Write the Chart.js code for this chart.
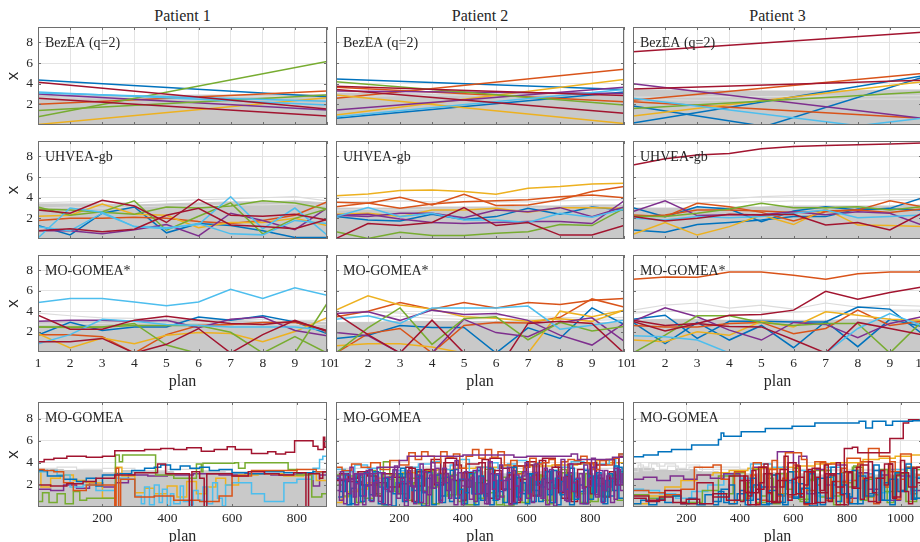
<!DOCTYPE html>
<html>
<head>
<meta charset="utf-8">
<script src="https://cdn.jsdelivr.net/npm/chart.js@4/dist/chart.umd.min.js"></script>
<style>
  html, body { margin: 0; padding: 0; background: #fff; overflow: hidden; }
  #fig { position: relative; width: 920px; height: 542px; overflow: hidden; background: #fff; }
  #fig canvas { position: absolute; }
  .colTitle { position: absolute; top: 7px; font-family: "Liberation Serif", serif; font-size: 16px;
              color: #262626; transform: translateX(-50%); white-space: nowrap; }
</style>
</head>
<body>
<div id="fig"></div>
<script>
// ---- categories, ticks and labels ----
const patients = ['Patient 1', 'Patient 2', 'Patient 3'];
const methods = ['BezEA (q=2)', 'UHVEA-gb', 'MO-GOMEA*', 'MO-GOMEA'];
const plans = [1, 2, 3, 4, 5, 6, 7, 8, 9, 10];
const planEnds = [1, 10];
const yTicks = [2, 4, 6, 8];
const planTicks = [1, 2, 3, 4, 5, 6, 7, 8, 9, 10];
const longTicks = [200, 400, 600, 800];
const longTicks3 = [200, 400, 600, 800, 1000];
const planCount = [893, 906, 1080];

// ---- BezEA (q=2): straight fronts, value at plan 1 and plan 10 ----
const bez1 = [[4.37, 2.75], [2.0, 3.3], [0.05, 2.65], [3.0, 1.45], [0.8, 6.15], [1.4, 2.9],
              [3.2, 1.95], [3.1, 2.3], [4.15, 1.55], [2.6, 0.87]];
const bez1Hue = [0, 1, 2, 3, 4, 4, 5, 5, 6, 6];
const bez1Band = [2.9, 2.9, 2.85, 2.85, 2.85, 2.9, 2.9, 2.9, 2.95, 2.95];
const bez1Haze = [[2.6, 2.62, 2.65, 2.68, 2.7, 2.72, 2.75, 2.78, 2.8, 2.8]];

const bez2 = [[4.47, 3.45], [0.65, 3.2], [2.6, 5.4], [3.65, 2.25], [0.97, 4.4], [2.9, 0.15],
              [1.45, 3.65], [3.3, 3.05], [4.2, 1.95], [0.8, 3.45], [3.45, 1.13], [3.75, 2.85]];
const bez2Hue = [0, 0, 1, 1, 2, 2, 3, 3, 4, 5, 6, 6];
const bez2Band = [3.1, 3.1, 3.05, 3.0, 3.0, 3.0, 3.0, 3.05, 3.1, 3.1];
const bez2Haze = [[2.8, 2.8, 2.85, 2.9, 2.9, 2.9, 2.95, 2.95, 3.0, 3.0]];

const bez3 = [[0.2, 4.75], [1.85, -2.5], [-4.1, 4.6], [2.4, 5.0], [2.25, 0.65], [0.87, 4.2],
              [4.0, 0.65], [1.6, 3.2], [2.6, -0.82], [-2.6, 0.65], [3.5, 4.35], [7.1, 9.0]];
const bez3Hue = [0, 0, 0, 1, 1, 2, 3, 4, 5, 5, 6, 6];
const bez3Band = [3.4, 3.4, 3.35, 3.3, 3.3, 3.3, 3.3, 3.35, 3.4, 3.4];
const bez3Haze = [[2.7, 2.7, 2.72, 2.75, 2.75, 2.78, 2.8, 2.8, 2.82, 2.85],
                  [2.45, 2.45, 2.4, 2.4, 2.42, 2.45, 2.45, 2.5, 2.5, 2.5]];

// ---- UHVEA-gb: one value per plan ----
const uhv1 = [[1.3, 0.4, 2.5, 3.1, 0.6, 1.5, 1.3, 0.8, 0.15, 0.15],
              [1.8, 2.0, 2.0, 2.1, 2.0, 1.7, 1.5, 1.8, 2.3, 3.6],
              [2.2, 2.3, 3.4, 2.4, 2.3, 1.1, 1.6, 1.6, 2.0, 1.3],
              [0.8, 0.8, 0.5, 0.9, 1.4, 0.3, 2.5, 1.8, 0.9, 3.0],
              [3.1, 2.3, 2.65, 3.7, 0.85, 2.2, 3.5, 0.5, 2.0, 2.9],
              [2.9, 2.8, 2.6, 2.4, 3.1, 3.0, 3.2, 3.7, 3.5, 2.9],
              [0.1, 3.0, 2.6, 1.2, 1.1, 1.4, 4.1, 1.0, 3.0, 0.4],
              [1.2, 0.8, 2.5, 1.2, 1.0, 1.5, 0.5, 0.4, 1.8, 1.5],
              [2.8, 2.5, 3.75, 3.2, 1.6, 3.85, 2.3, 2.2, 2.4, 1.85],
              [0.8, 1.0, 0.7, 0.95, 2.3, 2.97, 1.36, 1.2, 1.0, 1.9]];
const uhv1Hue = [0, 1, 2, 3, 4, 4, 5, 5, 6, 6];
const uhv1Band = [3.4, 3.4, 3.4, 3.3, 3.4, 3.5, 3.6, 3.6, 3.7, 3.5];
const uhv1Haze = [[3.5, 3.6, 3.6, 3.5, 3.7, 3.8, 3.9, 4.0, 4.1, 3.7],
                  [3.0, 3.1, 3.0, 3.1, 3.2, 3.2, 3.3, 3.3, 3.4, 3.2]];

const uhv2 = [[2.17, 1.85, 1.75, 2.4, 1.9, 2.17, 2.97, 2.4, 3.1, 2.8],
              [3.56, 3.46, 4.05, 3.3, 4.33, 3.24, 3.3, 3.8, 4.6, 5.1],
              [3.13, 3.5, 2.97, 3.4, 3.62, 3.7, 3.8, 4.1, 4.27, 4.0],
              [4.2, 4.36, 4.7, 4.76, 4.6, 4.33, 4.92, 5.08, 5.34, 5.4],
              [2.4, 2.5, 2.17, 2.8, 2.8, 2.97, 2.6, 3.04, 3.04, 2.97],
              [2.27, 2.4, 1.94, 1.6, 1.5, 1.6, 1.7, 1.7, 1.5, 3.7],
              [2.3, 2.17, 2.5, 2.5, 2.07, 2.8, 2.65, 3.04, 2.17, 3.1],
              [0.7, 0.05, 0.65, 0.33, 0.33, 0.55, 0.7, 1.4, 1.3, 2.97],
              [2.17, 3.04, 2.17, 2.5, 1.85, 1.85, 1.6, 2.5, 2.1, 2.9],
              [0.05, 1.5, 1.3, 1.6, 3.04, 1.3, 1.6, 0.38, 0.38, 1.3]];
const uhv2Hue = [0, 1, 1, 2, 2, 3, 3, 4, 5, 6];
const uhv2Band = [3.0, 3.0, 3.0, 3.1, 3.1, 3.1, 3.2, 3.2, 3.3, 3.3];
const uhv2Haze = [[3.6, 3.6, 3.7, 3.6, 3.6, 3.6, 3.6, 3.7, 3.8, 3.8],
                  [2.8, 2.9, 2.8, 2.9, 2.9, 3.0, 3.0, 3.0, 3.1, 3.1]];

const uhv3 = [[3.04, 2.17, 3.13, 2.9, 1.68, 2.72, 3.13, 2.8, 2.97, 3.98],
              [0.87, 0.65, 1.4, 1.6, 1.85, 2.17, 2.17, 2.9, 2.9, 2.8],
              [2.33, 2.17, 3.46, 3.13, 2.58, 1.75, 2.65, 2.8, 3.7, 3.13],
              [2.17, 2.33, 2.8, 2.8, 2.72, 2.58, 2.72, 2.8, 2.58, 2.9],
              [0.45, 1.6, 0.38, 1.2, 2.33, 1.4, 2.9, 1.35, 1.3, 1.2],
              [2.65, 3.7, 2.27, 2.35, 2.35, 2.65, 2.35, 2.65, 2.5, 1.35],
              [2.2, 2.17, 2.5, 2.9, 3.46, 3.04, 3.04, 3.13, 2.8, 3.13],
              [2.0, 1.85, 2.17, 2.07, 2.17, 2.5, 2.8, 2.07, 2.17, 2.33],
              [7.18, 7.77, 8.15, 8.3, 8.74, 8.96, 9.06, 9.13, 9.2, 9.3],
              [2.17, 1.75, 2.0, 2.4, 2.33, 2.4, 1.35, 1.6, 0.87, 2.5]];
const uhv3Hue = [0, 0, 1, 1, 2, 3, 4, 5, 6, 6];
const uhv3Band = [3.0, 3.0, 3.0, 3.1, 3.1, 3.2, 3.2, 3.2, 3.2, 3.3];
const uhv3Haze = [[3.7, 3.8, 3.9, 3.9, 4.1, 4.2, 4.2, 4.2, 4.3, 4.3],
                  [3.4, 3.5, 3.5, 3.6, 3.6, 3.7, 3.7, 3.7, 3.8, 3.8]];

// ---- MO-GOMEA*: one value per plan (null = no solution drawn) ----
const mgs1 = [[1.65, 2.9, 2.1, 2.46, 2.46, 3.43, 3.1, 3.54, 2.95, 1.8],
              [1.7, 1.7, 1.5, -0.1, 1.7, 2.6, 2.7, 2.9, 2.9, 2.1],
              [1.8, 0.4, 1.37, 0.8, 1.65, 1.9, 1.8, 1.0, 2.0, 3.37],
              [3.0, 3.1, 3.1, 3.0, 3.1, 2.37, 3.2, 3.43, 2.1, 1.6],
              [2.46, 2.4, 2.46, 2.8, 0.68, -0.15, null, null, null, null],
              [2.46, 2.46, 2.46, 2.6, 2.6, 2.6, 1.93, -0.1, 1.5, -0.1],
              [null, null, null, null, null, null, null, null, -0.1, 4.75],
              [4.85, 5.24, 5.24, 4.9, 4.52, 4.9, 6.15, 5.24, 6.3, 5.56],
              [0.8, 1.7, 3.2, 3.0, 2.7, 2.6, 2.46, 2.46, 2.46, 2.1],
              [3.6, 2.24, 2.24, 3.12, 3.5, 3.12, 2.8, 2.7, 3.0, 2.1],
              [1.0, 1.0, 1.33, -0.1, 0.75, 2.3, -0.1, 1.7, 3.1, 2.0]];
const mgs1Hue = [0, 1, 2, 3, 4, 4, 4, 5, 5, 6, 6];
const mgs1Band = [3.0, 3.0, 3.0, 3.1, 3.1, 3.1, 3.1, 3.0, 3.0, 2.9];
const mgs1Haze = [[3.8, 3.55, 3.35, 3.3, 3.2, 3.2, 3.2, 3.2, 3.1, 3.1],
                  [2.7, 2.8, 2.8, 2.9, 2.8, 2.9, 2.8, 2.8, 2.7, 2.7]];

const mgs2 = [[1.33, 1.65, 2.6, 2.4, 2.4, -0.1, 2.37, 1.33, 4.32, 2.7],
              [3.45, 4.0, 4.84, 4.2, 4.84, 4.32, 4.84, 4.65, 5.07, 5.23],
              [-0.1, 1.8, 2.3, -0.1, 2.6, 2.9, 2.85, 3.4, 5.2, 4.4],
              [4.1, 5.5, 4.6, 4.2, 3.45, 3.3, 3.0, 3.25, 3.0, 4.1],
              [0.6, 0.8, 0.8, 0.5, -0.1, null, null, null, null, null],
              [null, null, null, null, null, null, -0.1, 4.0, 3.45, 4.1],
              [3.77, 3.93, 3.1, 4.1, 3.67, 3.77, 3.1, 1.65, 0.68, 2.8],
              [1.9, 1.6, -0.1, -0.1, 3.2, 1.9, 1.5, 2.9, 3.35, 1.07],
              [-0.1, 2.37, 4.32, 0.75, 3.27, 3.45, 1.2, 2.9, 2.05, 2.5],
              [3.2, 3.54, 2.8, 4.32, 4.32, 4.32, 4.5, 2.24, 2.63, 3.1],
              [3.77, 1.7, -0.1, 3.12, -0.1, null, null, null, null, null],
              [null, null, null, null, null, -2.0, 2.8, 3.0, 2.8, -0.1]];
const mgs2Hue = [0, 1, 1, 2, 2, 2, 3, 3, 4, 5, 6, 6];
const mgs2Band = [2.9, 2.9, 3.0, 3.0, 3.0, 3.0, 3.0, 2.9, 2.9, 2.9];
const mgs2Haze = [[3.9, 4.0, 3.8, 3.6, 3.5, 3.6, 3.5, 3.4, 3.3, 3.4],
                  [3.4, 3.5, 3.5, 3.3, 3.2, 3.3, 3.2, 3.2, 3.1, 3.2]];

const mgs3 = [[3.2, 3.6, 1.33, 3.0, 3.0, 2.95, 2.95, 4.4, 4.2, 1.8],
              [2.9, 0.83, 2.9, 1.17, 2.6, 0.42, 3.0, 0.52, 3.2, 2.5],
              [7.12, 7.35, 7.32, 7.83, 7.83, 7.51, 7.12, 7.67, 7.83, 7.83],
              [2.6, 2.46, 2.46, 2.8, 2.9, 1.8, 2.3, 4.1, 2.6, 3.0],
              [1.17, 1.0, 1.98, 1.65, 3.0, 2.46, 3.93, 3.6, 3.2, 3.1],
              [3.0, 4.32, 3.45, 2.14, 1.17, 2.9, 2.7, 1.4, 2.8, 3.45],
              [-0.1, 1.65, 3.54, 3.54, 2.9, 2.6, 2.8, 2.8, -0.1, 3.0],
              [1.6, 1.5, 1.17, -0.1, null, null, null, null, null, null],
              [null, null, null, null, null, null, -0.1, 2.3, 3.77, 2.6],
              [3.0, 2.05, 2.8, 3.6, 3.67, 4.1, 5.95, 5.17, 5.83, 6.37],
              [3.1, 2.6, 2.8, 2.5, 2.46, 1.2, -0.1, 2.9, 2.3, 1.7]];
const mgs3Hue = [0, 0, 1, 1, 2, 3, 4, 5, 5, 6, 6];
const mgs3Band = [3.1, 3.2, 3.2, 3.1, 3.2, 3.1, 3.1, 3.2, 3.1, 3.1];
const mgs3Haze = [[4.1, 4.6, 4.8, 4.3, 4.6, 4.2, 4.8, 4.4, 4.6, 4.5],
                  [3.8, 4.0, 4.0, 4.0, 3.9, 3.9, 4.0, 4.0, 4.1, 4.1]];

// ---- MO-GOMEA: [plan, value] change points, value held until the next plan ----
const mg1 = [
  [[1,1.6],[40,1.5],[80,2.0],[120,1.7],[160,2.2],[200,1.8],[240,2.2],[280,2.9],[340,2.8],[400,2.9],[480,3.0],[560,2.9],[640,3.0],[720,2.9],[800,3.0],[850,1.9],[870,2.9],[893,2.8]],
  [[1,3.2],[10,1.8],[40,2.6],[70,2.9],[110,2.4],[150,2.2],[200,0.8],[240,3.6],[260,2.8],[300,1.3],[330,1.7],[360,1.2],[400,1.9],[430,0.9],[460,2.3],[490,1.2],[520,1.8],[550,2.6],[580,2.0],[620,2.9],[680,3.0],[760,2.8],[820,3.0],[860,2.4],[893,2.7]],
  [[1,3.2],[30,3.3],[60,2.9],[100,1.8],[140,2.0],[180,1.5],[240,2.6],[280,2.5],[300,1.0],[320,0.3],[330,1.8],[345,0.2],[360,2.0],[375,0.4],[385,1.6],[400,0.1],[410,1.2],[420,0.3],[440,1.9],[450,0.5],[470,0.2],[480,1.5],[495,0.6],[510,1.8],[525,0.3],[540,2.2],[555,0.8],[570,0.1],[580,2.0],[600,2.2],[660,1.2],[700,0.5],[760,2.2],[800,2.5],[850,3.5],[870,4.3],[880,4.6],[893,4.5]],
  [[1,0.5],[15,1.3],[35,0.4],[60,1.2],[85,0.3],[110,1.4],[130,0.6],[151,0.8],[240,4.7],[252,4.1],[262,4.7],[364,2.9],[420,2.6],[490,3.9],[505,3.2],[510,3.95],[608,4.0],[620,3.5],[640,4.0],[773,3.4],[800,2.9],[846,0.9],[877,1.2],[893,1.0]],
  [[1,3.3],[30,2.8],[80,2.5],[120,2.3],[150,2.6],[180,1.9],[200,2.9],[240,3.0],[290,3.3],[330,3.5],[360,3.6],[380,3.8],[410,3.4],[440,3.7],[470,3.5],[500,3.6],[530,3.3],[560,3.4],[600,3.1],[650,3.0],[700,3.2],[760,3.1],[850,3.2],[893,3.3]],
  [[1,3.4],[20,3.3],[50,3.2],[80,2.2],[110,1.5],[150,2.0],[238,0],[242,3.5],[250,0],[256,2.5],[300,0.9],[330,0.9],[360,1.0],[420,0.6],[500,0.5],[560,1.0],[600,2.8],[660,3.3],[700,3.3],[760,3.3],[800,3.4],[860,3.2],[893,3.2]],
  [[1,2.0],[40,1.9],[90,2.1],[140,2.3],[180,2.6],[238,2.9],[300,3.1],[370,3.9],[395,3.0],[460,3.0],[468,0],[476,3.2],[500,2.6],[514,0],[522,3.0],[600,2.8],[650,3.2],[700,3.0],[745,2.9],[790,3.1],[828,0],[836,3.0],[870,2.6],[880,3.2],[893,3.2]],
  [[1,4.1],[20,4.3],[50,4.4],[90,4.6],[150,4.5],[200,4.6],[238,5.1],[330,5.2],[380,5.3],[420,5.2],[460,5.35],[505,5.05],[545,5.2],[585,5.45],[610,5.2],[660,4.85],[710,5.0],[735,4.8],[765,4.95],[793,6.0],[850,5.5],[865,5.2],[882,6.3],[886,5.4],[893,5.4]]
];
const mg1Hue = [3, 2, 5, 4, 0, 1, 6, 6];
const mg1Band = [[1,3.2],[40,3.4],[80,3.3],[140,3.4],[200,3.1],[260,3.3],[340,3.2],[420,3.0],[500,3.2],[580,3.1],[660,3.0],[740,2.9],[820,3.1],[893,3.0]];
const mg1Haze = [[[1,3.5],[60,3.6],[120,3.4],[200,3.5],[300,3.3],[400,3.4],[500,3.3],[600,3.2],[700,3.3],[800,3.4],[893,3.5]]];

const mg2 = [
  [[1,0.4],[20,0.9],[40,1.4],[70,1.6],[100,2.2],[130,2.6],[170,2.9],[210,3.1],[260,3.3],[320,3.4],[380,3.5],[440,3.6],[520,3.7],[600,3.7],[680,3.8],[760,3.9],[820,4.2],[860,4.0],[906,3.9]],
  [[1,3.4],[30,3.2],[60,3.8],[100,3.5],[140,3.0],[180,3.3],[220,3.6],[260,3.9],[300,4.1],[330,3.4],[360,3.8],[390,4.3],[420,3.2],[450,3.6],[480,4.0],[510,3.5],[540,3.9],[570,4.2],[600,3.8],[630,4.0],[660,3.3],[700,3.6],[740,4.1],[780,3.4],[820,3.9],[860,4.3],[880,2.0],[890,4.8],[906,3.5]],
  [[1,2.9],[30,2.5],[60,2.7],[90,0.8],[120,2.0],[150,4.1],[170,3.0],[200,1.2],[230,2.6],[260,0.3],[290,1.8],[320,3.0],[350,1.1],[380,2.4],[410,0.2],[440,2.2],[470,3.4],[500,1.0],[530,0.1],[560,2.6],[590,1.5],[620,2.9],[650,0.6],[680,2.0],[710,3.1],[740,1.3],[770,0.4],[800,2.7],[830,1.0],[860,2.3],[890,3.2],[906,3.0]],
  [[5,2.0],[25,1.0],[45,2.8],[65,0.4],[85,1.9],[105,3.3],[125,1.2],[145,0.2],[165,2.5],[185,1.4],[205,3.0],[225,0.6],[245,2.2],[265,1.5],[285,3.4],[305,0.3],[325,2.6],[345,1.0],[365,2.9],[385,0.5],[405,1.8],[425,3.1],[445,0.8],[465,2.4],[485,1.3],[505,0.2],[525,2.7],[545,1.6],[565,3.2],[585,0.4],[605,2.0],[625,1.1],[645,2.8],[665,0.3],[685,1.9],[705,3.4],[725,0.7],[745,2.3],[765,1.2],[785,3.0],[805,0.5],[825,2.1],[845,1.4],[865,2.9],[885,0.6],[906,2.2]],
  [[1,2.4],[40,2.3],[80,2.0],[120,2.2],[160,1.8],[200,2.1],[230,3.5],[250,1.9],[280,3.4],[310,2.0],[340,4.0],[370,2.4],[400,3.1],[430,1.2],[460,4.3],[480,0.8],[500,3.3],[520,1.6],[540,2.9],[560,0.4],[580,2.5],[600,3.8],[620,1.0],[640,4.2],[660,2.2],[680,3.6],[700,1.3],[720,2.8],[740,0.5],[760,3.4],[780,1.8],[800,4.0],[820,2.6],[840,0.9],[860,3.2],[880,2.0],[906,2.6]],
  [[10,3.0],[40,2.6],[70,3.2],[100,2.8],[130,1.0],[145,3.0],[180,2.7],[220,3.6],[240,0.5],[255,3.2],[300,4.3],[330,2.2],[345,4.4],[380,3.8],[395,0.6],[410,3.9],[450,4.0],[470,1.2],[485,4.4],[520,3.5],[545,0.3],[560,3.7],[600,4.1],[630,2.0],[650,4.4],[690,3.6],[710,0.8],[730,3.9],[770,4.0],[800,1.2],[815,3.8],[850,4.3],[875,2.5],[890,4.6],[906,4.0]],
  [[1,3.6],[20,3.3],[50,3.9],[80,3.6],[110,4.0],[140,3.4],[170,4.2],[200,3.8],[230,4.9],[250,4.3],[270,5.0],[290,4.6],[310,4.0],[330,5.0],[350,4.5],[370,4.8],[390,3.5],[410,4.6],[430,5.2],[450,4.4],[470,5.2],[490,4.5],[510,5.0],[530,3.8],[550,4.2],[570,3.0],[590,3.6],[610,4.4],[630,3.9],[650,4.0],[670,4.3],[690,3.8],[710,4.1],[730,4.3],[750,4.2],[770,4.6],[790,4.0],[810,3.4],[830,4.2],[850,3.8],[870,4.4],[890,4.8],[906,4.5]],
  [[1,2.6],[15,1.4],[30,2.9],[45,0.3],[60,2.2],[75,1.0],[90,3.1],[105,0.6],[120,2.4],[135,1.8],[150,0.2],[165,2.7],[180,1.2],[195,3.0],[210,0.5],[225,2.3],[240,1.5],[255,3.4],[270,0.1],[285,2.6],[300,1.7],[315,2.9],[330,0.4],[345,2.2],[360,3.3],[375,0.8],[390,2.5],[405,1.3],[420,3.0],[435,0.2],[450,2.8],[465,1.0],[480,3.5],[495,0.6],[510,2.4],[525,1.6],[540,3.1],[555,0.3],[570,2.7],[585,1.2],[600,3.0],[615,0.5],[630,2.3],[645,1.8],[660,3.2],[675,0.4],[690,2.6],[705,1.1],[720,2.9],[735,0.2],[750,2.5],[765,1.4],[780,3.3],[795,0.7],[810,2.8],[825,1.9],[840,0.3],[855,3.0],[870,1.5],[885,3.6],[900,2.2],[906,2.0]],
  [[8,0.9],[22,2.3],[36,0.2],[50,1.7],[64,3.0],[78,0.5],[92,2.0],[106,1.1],[120,3.2],[134,0.3],[148,2.6],[162,1.4],[176,0.1],[190,2.2],[204,3.5],[218,0.8],[232,1.9],[246,0.4],[260,2.8],[274,1.3],[288,3.1],[302,0.2],[316,2.0],[330,1.0],[344,2.7],[358,0.5],[372,3.4],[386,1.6],[400,0.3],[414,2.4],[428,1.2],[442,3.3],[456,0.6],[470,2.1],[484,0.2],[498,2.9],[512,1.4],[526,0.4],[540,2.5],[554,3.6],[568,0.9],[582,2.2],[596,0.3],[610,3.0],[624,1.5],[638,0.5],[652,2.6],[666,1.1],[680,3.3],[694,0.2],[708,2.3],[722,1.6],[736,3.5],[750,0.7],[764,2.0],[778,0.3],[792,2.8],[806,1.3],[820,3.1],[834,0.5],[848,2.4],[862,1.0],[876,3.7],[890,0.8],[906,2.5]],
  [[1,2.5],[60,3.0],[130,3.6],[200,4.2],[225,4.6],[400,4.7],[560,4.5],[600,4.6],[740,4.8],[760,4.3],[870,4.5],[906,4.2]],
  [[1,2.8],[12,0.6],[24,3.0],[36,1.2],[48,2.5],[60,0.2],[72,2.9],[84,1.0],[96,3.3],[108,0.5],[120,2.2],[132,3.1],[144,0.3],[156,2.7],[168,1.4],[180,3.4],[192,0.8],[204,2.6],[216,0.1],[228,3.0],[240,1.8],[252,2.9],[264,0.4],[276,3.2],[288,1.1],[300,4.0],[312,2.2],[324,0.6],[336,3.5],[348,1.5],[360,2.8],[372,0.2],[384,3.1],[396,1.9],[408,2.5],[420,0.7],[432,3.3],[444,1.2],[456,2.6],[468,0.3],[480,4.1],[492,1.6],[504,3.0],[516,0.9],[528,2.4],[540,3.6],[552,0.4],[564,2.9],[576,1.3],[588,3.2],[600,0.8],[612,2.7],[624,3.9],[636,1.0],[648,2.5],[660,0.2],[672,3.4],[684,1.7],[696,2.8],[708,4.3],[720,0.6],[732,3.1],[744,1.4],[756,2.6],[768,0.3],[780,3.8],[792,1.9],[804,4.4],[816,0.9],[828,3.3],[840,1.5],[852,2.8],[864,0.4],[876,3.5],[888,2.0],[900,3.0],[906,2.6]],
  [[5,1.5],[15,3.2],[25,0.3],[35,2.4],[45,3.6],[55,0.9],[65,2.1],[75,3.0],[85,0.2],[95,1.9],[105,3.4],[115,1.0],[125,2.7],[135,0.5],[145,3.1],[155,1.6],[165,0.2],[175,2.8],[185,3.7],[195,1.2],[205,2.3],[215,0.6],[225,3.3],[235,1.9],[245,0.3],[255,2.6],[265,3.9],[275,1.4],[285,0.1],[295,2.9],[305,1.7],[315,3.5],[325,0.4],[335,2.2],[345,3.0],[355,0.8],[365,2.5],[375,4.2],[385,1.1],[395,0.2],[405,3.2],[415,1.8],[425,2.7],[435,0.5],[445,3.6],[455,1.3],[465,2.1],[475,0.3],[485,3.0],[495,2.4],[505,0.7],[515,3.8],[525,1.5],[535,2.6],[545,0.2],[555,3.3],[565,1.9],[575,0.6],[585,2.8],[595,4.0],[605,1.2],[615,0.4],[625,3.1],[635,2.0],[645,0.8],[655,3.5],[665,1.6],[675,2.4],[685,0.1],[695,3.2],[705,1.4],[715,2.7],[725,0.5],[735,3.9],[745,2.2],[755,0.9],[765,3.0],[775,1.7],[785,0.3],[795,2.5],[805,3.6],[815,1.1],[825,2.9],[835,0.4],[845,3.3],[855,1.8],[865,2.6],[875,0.7],[885,3.4],[895,1.5],[906,2.8]]
];
const mg2Hue = [2, 5, 4, 4, 6, 6, 1, 0, 0, 3, 3, 3];
const mg2Band = [[1,3.2],[100,3.0],[200,3.3],[300,3.1],[400,3.2],[500,3.0],[600,3.2],[700,3.1],[800,3.0],[906,3.1]];
const mg2Haze = [[[1,3.5],[150,3.6],[300,3.7],[450,3.5],[600,3.6],[750,3.5],[906,3.6]]];

const mg3 = [
  [[1,0.3],[60,1.0],[120,1.8],[180,2.4],[240,2.9],[300,3.1],[360,3.3],[430,3.5],[500,3.5],[560,3.6],[620,3.7],[680,3.9],[740,4.0],[800,4.0],[860,4.3],[920,4.4],[980,4.6],[1040,4.7],[1080,4.8]],
  [[1,1.6],[40,1.5],[100,1.2],[160,0.8],[220,1.4],[280,2.0],[340,2.9],[400,2.6],[440,3.9],[520,3.6],[580,2.2],[620,3.3],[680,1.0],[720,3.6],[780,2.4],[840,3.0],[900,1.3],[960,3.4],[1020,2.7],[1080,3.2]],
  [[1,1.1],[60,0.8],[120,1.0],[180,0.4],[260,1.5],[320,2.8],[380,3.1],[420,1.8],[460,0.4],[500,2.9],[540,1.2],[580,3.2],[620,0.7],[660,2.5],[700,3.3],[740,1.0],[780,2.2],[820,3.6],[860,0.9],[900,2.6],[940,1.4],[980,3.0],[1020,0.5],[1060,3.4],[1080,3.1]],
  [[350,1.2],[375,2.9],[400,0.6],[425,2.2],[450,3.4],[475,1.0],[500,2.6],[525,0.3],[550,3.0],[575,1.6],[600,3.5],[625,0.5],[650,2.4],[675,3.3],[700,0.9],[725,2.7],[750,0.2],[775,3.1],[800,1.8],[825,3.7],[850,0.6],[875,2.5],[900,1.1],[925,3.4],[950,0.4],[975,2.8],[1000,1.5],[1025,3.6],[1050,0.8],[1080,3.0]],
  [[1,2.5],[40,2.7],[90,2.4],[140,2.8],[190,2.5],[240,2.9],[290,2.6],[340,3.0],[400,2.4],[450,3.6],[500,1.8],[540,5.0],[600,2.6],[620,4.6],[650,1.2],[680,3.4],[720,2.0],[760,3.8],[800,0.8],[840,3.1],[880,1.6],[920,2.9],[960,0.6],[1000,2.8],[1040,1.5],[1080,3.0]],
  [[1,1.5],[60,1.3],[120,1.1],[180,1.6],[230,3.6],[300,3.8],[330,2.5],[360,0.3],[380,3.2],[420,1.4],[450,4.0],[480,0.6],[510,3.4],[540,1.0],[570,4.9],[630,4.3],[650,1.5],[680,4.1],[720,3.9],[760,2.3],[800,4.4],[850,4.1],[880,5.3],[920,4.6],[960,3.2],[1000,4.8],[1040,3.6],[1080,4.2]],
  [[420,0.8],[440,2.9],[460,0.3],[480,3.6],[500,1.2],[520,4.2],[540,0.5],[560,2.6],[580,0.9],[600,3.8],[620,1.6],[640,0.2],[660,3.1],[680,2.0],[700,4.0],[720,0.6],[740,2.8],[760,1.3],[780,3.5],[800,0.4],[820,2.4],[840,3.9],[860,1.0],[880,2.7],[900,0.3],[920,3.3],[940,1.8],[960,4.1],[980,0.7],[1000,2.5],[1020,3.6],[1040,1.2],[1060,2.9],[1080,0.5]],
  [[1,0.3],[30,0.6],[60,0.2],[90,0.7],[120,0.4],[150,1.0],[180,0.3],[210,0.8],[240,0.2],[270,1.1],[300,0.5],[330,1.6],[360,0.3],[390,1.2],[420,0.6],[450,2.0],[480,0.2],[510,1.5],[540,0.4],[570,2.4],[600,0.9],[630,1.7],[660,0.1],[690,2.6],[720,0.8],[750,3.0],[780,1.2],[810,0.3],[840,2.8],[870,1.0],[900,3.3],[930,0.6],[960,2.5],[990,1.4],[1020,3.5],[1050,0.8],[1080,3.7]],
  [[300,0.2],[320,1.4],[340,0.4],[360,2.0],[380,0.6],[400,1.5],[420,0.2],[440,2.6],[460,0.7],[480,1.8],[500,0.3],[520,2.9],[540,1.1],[560,0.2],[580,3.2],[600,0.8],[620,2.1],[640,0.4],[660,3.0],[680,1.3],[700,0.2],[720,2.7],[740,3.6],[760,0.5],[780,2.0],[800,0.9],[820,3.3],[840,0.3],[860,2.4],[880,1.2],[900,3.8],[920,0.6],[940,2.2],[960,0.2],[980,3.1],[1000,1.5],[1020,3.9],[1040,0.7],[1060,2.6],[1080,3.4]],
  [[1,0.8],[50,0.5],[100,0.9],[150,0.4],[200,0.7],[250,0.3],[300,1.2],[350,0.6],[400,2.4],[430,0.2],[460,1.6],[490,3.0],[520,0.4],[550,3.4],[580,1.1],[610,2.7],[640,0.3],[670,3.5],[700,1.3],[730,2.9],[760,0.2],[790,3.2],[820,1.7],[850,3.8],[880,0.5],[910,2.6],[940,3.9],[970,0.9],[1000,3.1],[1030,1.8],[1060,3.6],[1080,2.4]],
  [[400,0.5],[415,2.8],[430,1.0],[445,3.3],[460,0.2],[475,2.2],[490,3.9],[505,1.3],[520,0.4],[535,3.0],[550,1.8],[565,4.6],[580,0.6],[595,2.5],[610,3.7],[625,0.9],[640,2.0],[655,3.4],[670,0.3],[685,2.7],[700,1.5],[715,3.8],[730,0.5],[745,2.3],[760,4.0],[775,1.1],[790,0.2],[805,3.1],[820,1.8],[835,3.6],[850,0.7],[865,2.6],[880,4.1],[895,1.3],[910,0.4],[925,3.3],[940,2.0],[955,3.9],[970,0.8],[985,2.9],[1000,4.2],[1015,1.4],[1030,0.3],[1045,3.5],[1060,2.2],[1080,3.8]],
  [[1,1.0],[60,0.6],[120,1.5],[180,0.3],[240,2.2],[300,0.9],[360,2.8],[420,1.3],[470,3.6],[500,0.5],[540,2.4],[580,4.0],[610,1.2],[640,3.2],[680,0.4],[720,3.0],[760,1.8],[790,5.3],[820,5.4],[840,4.9],[900,4.9],[960,6.2],[1010,7.6],[1030,7.9],[1080,7.9]],
  [[1,4.55],[40,4.7],[95,5.0],[145,5.2],[220,5.6],[320,6.1],[330,6.7],[340,6.4],[405,6.8],[495,7.1],[595,7.3],[680,7.6],[780,7.6],[845,7.75],[870,7.15],[895,7.75],[945,7.4],[970,7.75],[1045,7.8],[1080,7.8]]
];
const mg3Hue = [2, 5, 4, 4, 3, 1, 1, 0, 0, 6, 6, 6, 0];
const mg3Band = [[1,3.5],[80,3.3],[160,3.4],[240,3.2],[320,3.1],[400,3.0],[500,3.1],[600,3.0],[700,2.9],[800,3.0],[900,2.9],[1000,3.0],[1080,3.0]];
const mg3Haze = [[[1,4.0],[30,3.6],[60,4.0],[90,3.7],[120,3.9],[160,3.5],[200,3.8],[250,3.4],[300,3.6],[400,3.4],[600,3.3],[800,3.3],[1080,3.3]],
                 [[1,3.2],[20,3.8],[40,3.3],[70,3.9],[100,3.4],[130,3.7],[170,3.3],[210,3.6],[260,3.2],[300,3.4],[1080,3.2]]];

// ---- styling ----
const PALETTE = ['#0072BD', '#D95319', '#EDB120', '#7E2F8E', '#77AC30', '#4DBEEE', '#A2142F'];
const BAND = '#c9c9c9', HAZE = '#dcdcdc', GRID = '#e3e3e3', FRAME = '#6e6e6e', INK = '#262626';
const SERIF = '"Liberation Serif", "Times New Roman", serif';
const SANS = '"Liberation Sans", Arial, sans-serif';

// subplot geometry (pixels)
const COL_LEFT = [38, 336, 633], COL_W = [289, 288, 289];
const ROW_TOP = [27, 141, 255, 402], ROW_H = [98, 98, 97, 105];

const fig = document.getElementById('fig');

// frame, inward tick marks and the method label of each subplot
const framePlugin = {
  id: 'frame',
  afterDatasetsDraw(chart, args, opts) {
    const { ctx, chartArea: a, scales: { x, y } } = chart;
    ctx.save();
    ctx.strokeStyle = FRAME;
    ctx.lineWidth = 1;
    ctx.beginPath();
    y.ticks.forEach(t => {
      const py = Math.round(y.getPixelForValue(t.value)) + 0.5;
      ctx.moveTo(a.left, py); ctx.lineTo(a.left + 3, py);
      ctx.moveTo(a.right, py); ctx.lineTo(a.right - 3, py);
    });
    x.ticks.forEach(t => {
      const px = Math.round(x.getPixelForValue(t.value)) + 0.5;
      ctx.moveTo(px, a.bottom); ctx.lineTo(px, a.bottom - 3);
      ctx.moveTo(px, a.top); ctx.lineTo(px, a.top + 3);
    });
    ctx.stroke();
    ctx.strokeRect(Math.round(a.left) + 0.5, Math.round(a.top) + 0.5,
                   Math.round(a.right - a.left) - 1, Math.round(a.bottom - a.top) - 1);
    ctx.font = '14px ' + SERIF;
    ctx.fillStyle = INK;
    ctx.textBaseline = 'alphabetic';
    ctx.fillText(opts.text, a.left + 7, a.top + 20);
    ctx.restore();
  }
};

function toPoints(xs, ys) { return ys.map((y, i) => ({ x: xs[i], y })); }
function pairPoints(pairs) { return pairs.map(([x, y]) => ({ x, y })); }

function buildDatasets(kind, lines, hues, band, haze) {
  const stepped = kind === 'long';
  const lineXs = kind === 'ends' ? planEnds : plans;
  const linePts = kind === 'long' ? pairPoints : v => toPoints(lineXs, v);
  const bandPts = kind === 'long' ? pairPoints : v => toPoints(plans, v);
  const ds = [];
  ds.push({ data: bandPts(band), borderColor: BAND, borderWidth: 1, backgroundColor: BAND,
            fill: 'origin', stepped, order: 100 });
  haze.forEach(v => ds.push({ data: bandPts(v), borderColor: HAZE, borderWidth: 1.2,
                              fill: false, stepped, order: 50 }));
  lines.forEach((v, i) => ds.push({ data: linePts(v), borderColor: PALETTE[hues[i]],
                                    borderWidth: 1.5, fill: false, stepped, order: -i }));
  return ds;
}

function panel(row, col, kind, lines, hues, band, haze) {
  const L = col === 0 ? 38 : 8, T = 2, R = col === 2 ? 3 : 10;
  const showX = row >= 2;
  const B = showX ? 40 : 3;
  const w = L + COL_W[col] + R, h = T + ROW_H[row] + B;
  const cv = document.createElement('canvas');
  cv.width = w; cv.height = h;
  cv.style.left = (COL_LEFT[col] - L) + 'px';
  cv.style.top = (ROW_TOP[row] - T) + 'px';
  cv.style.width = w + 'px'; cv.style.height = h + 'px';
  fig.appendChild(cv);

  const xMax = row === 3 ? planCount[col] : 10;
  const xTicks = row === 3 ? (col === 2 ? longTicks3 : longTicks) : planTicks;

  new Chart(cv, {
    type: 'line',
    data: { datasets: buildDatasets(kind, lines, hues, band, haze) },
    options: {
      responsive: false,
      animation: false,
      devicePixelRatio: 1,
      layout: { padding: { top: T, right: R, left: 0, bottom: 0 }, autoPadding: false },
      elements: { point: { radius: 0, hitRadius: 0 }, line: { tension: 0 } },
      plugins: { legend: { display: false }, tooltip: { enabled: false }, frame: { text: methods[row] } },
      events: [],
      scales: {
        x: {
          type: 'linear', min: 1, max: xMax,
          afterBuildTicks: s => { s.ticks = xTicks.map(v => ({ value: v })); },
          afterFit: s => { s.height = B; s.paddingLeft = 0; s.paddingRight = 0; },
          grid: { color: GRID, lineWidth: 1, drawTicks: false },
          border: { display: false },
          ticks: { display: showX, autoSkip: false, maxRotation: 0, padding: 3, color: INK,
                   font: { family: SERIF, size: 13.5 }, callback: v => String(v) },
          title: { display: showX, text: 'plan', color: INK, font: { family: SERIF, size: 16 },
                   padding: { top: 0, bottom: 1 } }
        },
        y: {
          type: 'linear', min: 0, max: 9.5,
          afterBuildTicks: s => { s.ticks = yTicks.map(v => ({ value: v })); },
          afterFit: s => { s.width = L; s.paddingTop = 0; s.paddingBottom = 0; },
          grid: { color: GRID, lineWidth: 1, drawTicks: false },
          border: { display: false },
          ticks: { display: col === 0, padding: 5, color: INK,
                   font: { family: SERIF, size: 13.5 }, callback: v => String(v) },
          title: { display: col === 0, text: 'x', color: INK, font: { family: SANS, size: 17 },
                   padding: { top: 3.5, bottom: 0 } }
        }
      }
    },
    plugins: [framePlugin]
  });
}

// column titles
patients.forEach((p, c) => {
  const d = document.createElement('div');
  d.className = 'colTitle';
  d.textContent = p;
  d.style.left = (COL_LEFT[c] + COL_W[c] / 2) + 'px';
  fig.appendChild(d);
});

panel(0, 0, 'ends', bez1, bez1Hue, bez1Band, bez1Haze);
panel(0, 1, 'ends', bez2, bez2Hue, bez2Band, bez2Haze);
panel(0, 2, 'ends', bez3, bez3Hue, bez3Band, bez3Haze);
panel(1, 0, 'plans', uhv1, uhv1Hue, uhv1Band, uhv1Haze);
panel(1, 1, 'plans', uhv2, uhv2Hue, uhv2Band, uhv2Haze);
panel(1, 2, 'plans', uhv3, uhv3Hue, uhv3Band, uhv3Haze);
panel(2, 0, 'plans', mgs1, mgs1Hue, mgs1Band, mgs1Haze);
panel(2, 1, 'plans', mgs2, mgs2Hue, mgs2Band, mgs2Haze);
panel(2, 2, 'plans', mgs3, mgs3Hue, mgs3Band, mgs3Haze);
panel(3, 0, 'long', mg1, mg1Hue, mg1Band, mg1Haze);
panel(3, 1, 'long', mg2, mg2Hue, mg2Band, mg2Haze);
panel(3, 2, 'long', mg3, mg3Hue, mg3Band, mg3Haze);
</script>
</body>
</html>
